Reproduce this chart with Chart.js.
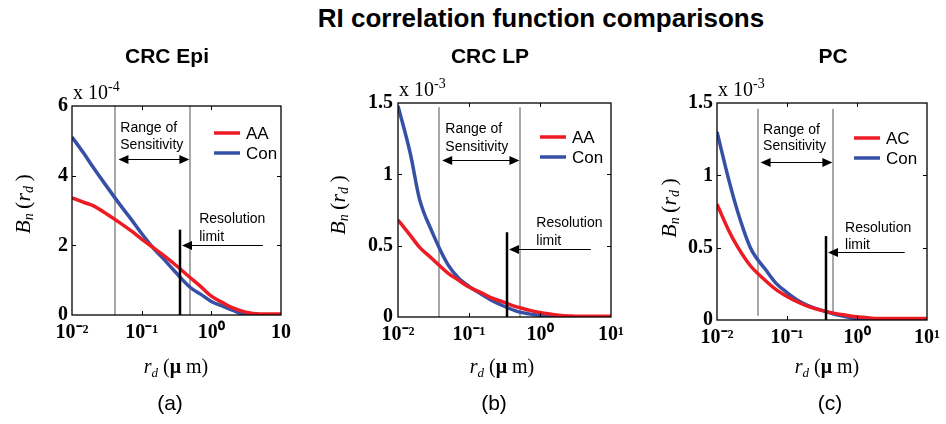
<!DOCTYPE html>
<html>
<head>
<meta charset="utf-8">
<script src="https://cdn.jsdelivr.net/npm/chart.js@4.4.1/dist/chart.umd.min.js"></script>
<style>
  html, body { margin: 0; padding: 0; background: #fff; }
  #page { position: relative; width: 946px; height: 424px; overflow: hidden; background: #fff; }
  #page canvas { position: absolute; top: 0; }
  #mainTitle {
    position: absolute; left: 0; top: 3px; width: 1082px; text-align: center;
    font: bold 26px "Liberation Sans", Arial, sans-serif; line-height: 30px; color: #000;
  }
</style>
</head>
<body>
<div id="page">
  <div id="mainTitle">RI correlation function comparisons</div>
  <canvas id="cA" width="310" height="424" style="left:0px;width:310px;height:424px"></canvas>
  <canvas id="cB" width="320" height="424" style="left:310px;width:320px;height:424px"></canvas>
  <canvas id="cC" width="316" height="424" style="left:630px;width:316px;height:424px"></canvas>
</div>
<script>
// r_d (um) sample positions, shared by all three panels
const rd = [0.01, 0.015, 0.02, 0.03, 0.05, 0.07, 0.1, 0.15, 0.2, 0.3, 0.5, 0.7, 1, 1.5, 2, 3, 5, 10];

// (a) CRC Epi, units of 1e-4
const epiAA  = [3.36, 3.23, 3.14, 2.93, 2.63, 2.42, 2.18, 1.92, 1.73, 1.45, 1.07, 0.82, 0.54, 0.34, 0.21, 0.09, 0.03, 0.03];
const epiCon = [5.11, 4.62, 4.25, 3.75, 3.14, 2.76, 2.34, 1.90, 1.64, 1.25, 0.79, 0.60, 0.39, 0.24, 0.14, 0.02, 0.01, 0.01];
// (b) CRC LP, units of 1e-3
const lpAA  = [0.68, 0.57, 0.49, 0.41, 0.31, 0.26, 0.21, 0.169, 0.137, 0.106, 0.067, 0.048, 0.031, 0.018, 0.010, 0.006, 0.005, 0.005];
const lpCon = [1.48, 1.14, 0.83, 0.60, 0.37, 0.277, 0.215, 0.160, 0.122, 0.079, 0.036, 0.022, 0.012, 0.004, 0.002, 0, 0, 0];
// (c) PC, units of 1e-3
const pcAC  = [0.80, 0.61, 0.50, 0.375, 0.27, 0.21, 0.163, 0.119, 0.094, 0.068, 0.044, 0.033, 0.022, 0.014, 0.010, 0.010, 0.010, 0.010];
const pcCon = [1.30, 0.955, 0.74, 0.50, 0.345, 0.253, 0.19, 0.13, 0.10, 0.07, 0.038, 0.023, 0.011, 0.003, 0.001, 0, 0, 0];

// ticks
const xTicks = [0.01, 0.1, 1, 10];
const xLabelsEpi = ['10\u207B\u00B2', '10\u207B\u00B9', '10\u2070', '10'];
const xLabelsLog = ['10\u207B\u00B2', '10\u207B\u00B9', '10\u2070', '10\u00B9'];
const yTicksEpi = [0, 2, 4, 6];
const yTicksLP = [0, 0.5, 1, 1.5];

// range of sensitivity (um), resolution limit (um) and its line height
const sensEpi = [0.042, 0.5], sensLP = [0.038, 0.53], sensPC = [0.038, 0.46];
const resEpi = [0.35, 2.45], resLP = [0.346, 0.594], resPC = [0.364, 0.58];

const RED = '#ed1c24';
const BLUE = '#3650a6';
const SERIF = '"Liberation Serif", "Times New Roman", serif';
const SANS = '"Liberation Sans", Arial, sans-serif';

// draw a run of text pieces: [text, font, dy]
function richText(ctx, parts, x, y, align) {
  const widths = parts.map(p => { ctx.font = p[1]; return ctx.measureText(p[0]).width; });
  const total = widths.reduce((a, b) => a + b, 0);
  let cx = align === 'center' ? x - total / 2 : x;
  ctx.textAlign = 'left';
  parts.forEach((p, i) => {
    ctx.font = p[1];
    ctx.fillText(p[0], cx, y + (p[2] || 0));
    cx += widths[i];
  });
}

function arrowHead(ctx, x, y, dir) {
  // dir = -1 points left, +1 points right
  ctx.beginPath();
  ctx.moveTo(x, y);
  ctx.lineTo(x - dir * 10, y - 4.5);
  ctx.lineTo(x - dir * 10, y + 4.5);
  ctx.closePath();
  ctx.fill();
}

const panelDeco = {
  id: 'panelDeco',
  beforeDatasetsDraw(chart, args, o) {
    const ctx = chart.ctx, xs = chart.scales.x, ys = chart.scales.y;
    ctx.save();
    ctx.strokeStyle = '#a8a8a8';
    ctx.lineWidth = 2;
    o.sens.forEach(v => {
      const px = Math.round(xs.getPixelForValue(v));
      ctx.beginPath();
      ctx.moveTo(px, ys.getPixelForValue(o.grayY[0]));
      ctx.lineTo(px, ys.getPixelForValue(o.grayY[1]));
      ctx.stroke();
    });
    ctx.restore();
  },
  afterDatasetsDraw(chart, args, o) {
    const ctx = chart.ctx, xs = chart.scales.x, ys = chart.scales.y;
    const a = chart.chartArea;
    ctx.save();
    // resolution limit line
    const rx = Math.round(xs.getPixelForValue(o.res[0]));
    ctx.strokeStyle = '#000';
    ctx.lineWidth = 2.5;
    ctx.beginPath();
    ctx.moveTo(rx, a.bottom);
    ctx.lineTo(rx, ys.getPixelForValue(o.res[1]));
    ctx.stroke();

    // arrows
    ctx.fillStyle = '#000';
    ctx.lineWidth = 1;
    const g1 = xs.getPixelForValue(o.sens[0]) + 3, g2 = xs.getPixelForValue(o.sens[1]) - 1;
    const ay = Math.round(ys.getPixelForValue(o.rangeY)) + 0.5;
    ctx.beginPath(); ctx.moveTo(g1 + 6, ay); ctx.lineTo(g2 - 6, ay); ctx.stroke();
    arrowHead(ctx, g1, ay, -1);
    arrowHead(ctx, g2, ay, 1);
    const ry = Math.round(ys.getPixelForValue(o.resArrowY)) + 0.5;
    const tail = xs.getPixelForValue(o.resTail);
    ctx.beginPath(); ctx.moveTo(tail, ry); ctx.lineTo(rx + 8, ry); ctx.stroke();
    arrowHead(ctx, rx + 2, ry, -1);

    // annotation text
    ctx.font = '14px ' + SANS;
    ctx.textBaseline = 'middle';
    ctx.textAlign = 'left';
    const tx = xs.getPixelForValue(o.rangeText[0]);
    ctx.fillText('Range of', tx, ys.getPixelForValue(o.rangeText[1]));
    ctx.fillText('Sensitivity', tx, ys.getPixelForValue(o.rangeText[2]));
    const qx = xs.getPixelForValue(o.resText[0]);
    ctx.fillText('Resolution', qx, ys.getPixelForValue(o.resText[1]));
    ctx.fillText('limit', qx, ys.getPixelForValue(o.resText[2]));
    ctx.restore();
  },
  afterDraw(chart, args, o) {
    const ctx = chart.ctx, xs = chart.scales.x, ys = chart.scales.y;
    const a = chart.chartArea;
    ctx.save();
    // box and inward ticks
    ctx.strokeStyle = '#000';
    ctx.lineWidth = 1.3;
    ctx.strokeRect(a.left, a.top, a.right - a.left, a.bottom - a.top);
    ctx.lineWidth = 1;
    ctx.beginPath();
    xs.ticks.forEach(t => {
      const px = Math.round(xs.getPixelForValue(t.value)) + 0.5;
      if (px <= a.left + 2 || px >= a.right - 2) return;
      ctx.moveTo(px, a.bottom); ctx.lineTo(px, a.bottom - 4);
      ctx.moveTo(px, a.top); ctx.lineTo(px, a.top + 4);
    });
    ys.ticks.forEach(t => {
      const py = Math.round(ys.getPixelForValue(t.value)) + 0.5;
      if (py <= a.top + 2 || py >= a.bottom - 2) return;
      ctx.moveTo(a.left, py); ctx.lineTo(a.left + 4, py);
      ctx.moveTo(a.right, py); ctx.lineTo(a.right - 4, py);
    });
    ctx.stroke();

    // legend from the datasets
    ctx.textBaseline = 'middle';
    chart.data.datasets.forEach((ds, i) => {
      const y = a.top + o.legendRows[i];
      const x0 = a.right - o.legendRight;
      ctx.strokeStyle = ds.borderColor;
      ctx.lineWidth = 3.5;
      ctx.beginPath(); ctx.moveTo(x0, y); ctx.lineTo(x0 + 26, y); ctx.stroke();
      ctx.fillStyle = '#000';
      ctx.font = '17px ' + SANS;
      ctx.textAlign = 'left';
      ctx.fillText(ds.label, x0 + 32, y + 1);
    });

    ctx.fillStyle = '#000';
    // panel title
    ctx.font = 'bold 21px ' + SANS;
    ctx.textAlign = 'center';
    ctx.textBaseline = 'alphabetic';
    ctx.fillText(o.title, o.titleX, 63);
    // exponent
    richText(ctx, [['x 10', '20px ' + SERIF], [o.exp, '14px ' + SERIF, -8]], a.left + 1, a.top - 7, 'left');
    // x axis title
    richText(ctx, [['r', 'italic 20px ' + SERIF], ['d', 'italic 13px ' + SERIF, 4], [' (', '20px ' + SERIF],
      ['\u03BC', 'bold 20px ' + SERIF], [' m', '20px ' + SERIF], [')', '20px ' + SERIF]], o.xTitleX, 373, 'center');
    // y axis title
    ctx.save();
    ctx.translate(o.yTitle[0], o.yTitle[1]);
    ctx.rotate(-Math.PI / 2);
    ctx.textBaseline = 'middle';
    richText(ctx, [['B', 'italic 22px ' + SERIF], ['n', 'italic 14px ' + SERIF, 5], ['\u2009(', '22px ' + SERIF],
      ['r', 'italic 22px ' + SERIF], ['d', 'italic 14px ' + SERIF, 5], ['\u2009)', '22px ' + SERIF]], 0, 0, 'center');
    ctx.restore();
    // panel letter
    ctx.font = '21px ' + SANS;
    ctx.textAlign = 'center';
    ctx.textBaseline = 'alphabetic';
    ctx.fillText(o.letter, o.letterX, 410);
    ctx.restore();
  }
};

function makePanel(p) {
  const canvas = document.getElementById(p.canvas);
  const W = canvas.width, H = canvas.height;
  const [L, T, R, B] = p.area;
  const tickFont = { family: SERIF, size: 20, weight: 'bold' };
  return new Chart(canvas, {
    type: 'line',
    data: {
      datasets: p.series.map(s => ({
        label: s[0],
        data: rd.map((x, i) => ({ x: x, y: s[1][i] })),
        borderColor: s[2],
        backgroundColor: s[2],
        borderWidth: 3.5,
        pointRadius: 0,
        cubicInterpolationMode: 'monotone',
        fill: false
      }))
    },
    plugins: [panelDeco],
    options: {
      responsive: false,
      animation: false,
      events: [],
      layout: { padding: { left: 0, top: T, right: W - R, bottom: 0 } },
      plugins: {
        legend: { display: false },
        tooltip: { enabled: false },
        panelDeco: p.deco
      },
      scales: {
        x: {
          type: 'logarithmic',
          min: 0.01,
          max: 10,
          afterBuildTicks: s => { s.ticks = xTicks.map(v => ({ value: v })); },
          afterFit: s => { s.height = H - B; },
          grid: { display: false, drawTicks: false },
          border: { display: false },
          ticks: {
            autoSkip: false, maxRotation: 0, padding: 6, color: '#000', font: tickFont,
            callback: (v, i) => p.xLabels[i]
          }
        },
        y: {
          min: 0,
          max: p.yTicks[p.yTicks.length - 1],
          afterBuildTicks: s => { s.ticks = p.yTicks.map(v => ({ value: v })); },
          afterFit: s => { s.width = L; },
          grid: { display: false, drawTicks: false },
          border: { display: false },
          ticks: { padding: p.yPad, color: '#000', font: tickFont, callback: v => String(v) }
        }
      }
    }
  });
}

document.addEventListener('DOMContentLoaded', function() {
  makePanel({
    canvas: 'cA', area: [72, 106, 281, 315], yTicks: yTicksEpi, xLabels: xLabelsEpi, yPad: 4,
    series: [['AA', epiAA, RED], ['Con', epiCon, BLUE]],
    deco: {
      title: 'CRC Epi', titleX: 167, exp: '-4', xTitleX: 176, yTitle: [24, 204], letter: '(a)', letterX: 170,
      sens: sensEpi, res: resEpi, grayY: [0, 6], rangeY: 4.49, resArrowY: 2.0, resTail: 5.5,
      rangeText: [0.0493, 5.37, 4.87], resText: [0.67, 2.74, 2.23],
      legendRight: 67, legendRows: [27, 47]
    }
  });
  makePanel({
    canvas: 'cB', area: [88, 103, 301, 317], yTicks: yTicksLP, xLabels: xLabelsLog, yPad: 5,
    series: [['AA', lpAA, RED], ['Con', lpCon, BLUE]],
    deco: {
      title: 'CRC LP', titleX: 180, exp: '-3', xTitleX: 192, yTitle: [29, 205], letter: '(b)', letterX: 184,
      sens: sensLP, res: resLP, grayY: [0, 1.47], rangeY: 1.097, resArrowY: 0.477, resTail: 5.2,
      rangeText: [0.0464, 1.319, 1.192], resText: [0.887, 0.658, 0.531],
      legendRight: 71, legendRows: [34, 54]
    }
  });
  makePanel({
    canvas: 'cC', area: [87, 103, 310, 320], yTicks: yTicksLP, xLabels: xLabelsLog, yPad: 4,
    series: [['AC', pcAC, RED], ['Con', pcCon, BLUE]],
    deco: {
      title: 'PC', titleX: 203, exp: '-3', xTitleX: 197, yTitle: [40, 208], letter: '(c)', letterX: 200,
      sens: sensPC, res: resPC, grayY: [0.03, 1.46], rangeY: 1.09, resArrowY: 0.469, resTail: 4.8,
      rangeText: [0.0455, 1.315, 1.2], resText: [0.676, 0.637, 0.517],
      legendRight: 73, legendRows: [35, 55]
    }
  });
});
</script>
</body>
</html>
